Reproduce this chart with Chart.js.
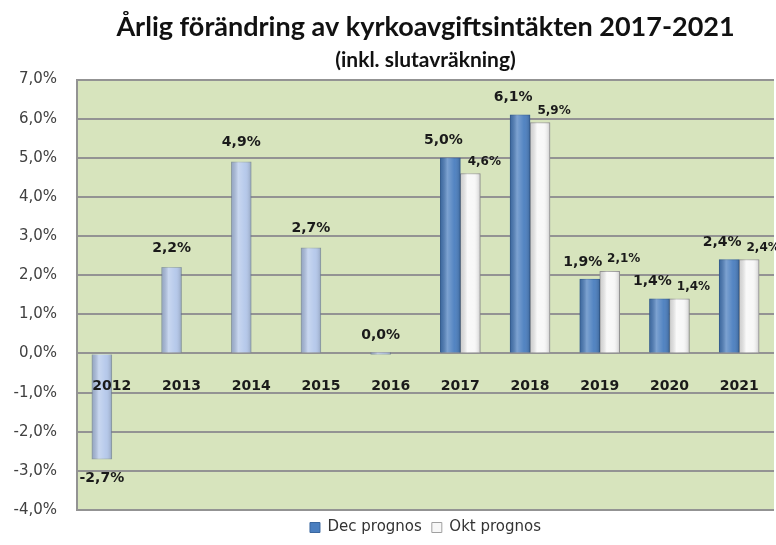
<!DOCTYPE html>
<html>
<head>
<meta charset="utf-8">
<script src="https://cdn.jsdelivr.net/npm/chart.js@4.4.1/dist/chart.umd.min.js"></script>
<style>
  html, body { margin: 0; padding: 0; background: #fff; }
  #wrap { width: 776px; height: 545px; }
</style>
</head>
<body>
<div id="wrap"><canvas id="kyrko" width="776" height="545"></canvas></div>
<script>
// data
var years = ['2012', '2013', '2014', '2015', '2016', '2017', '2018', '2019', '2020', '2021'];
var utfall = [-2.7, 2.2, 4.9, 2.7, 0.0, null, null, null, null, null];
var decPrognos = [null, null, null, null, null, 5.0, 6.1, 1.9, 1.4, 2.4];
var oktPrognos = [null, null, null, null, null, 4.6, 5.9, 2.1, 1.4, 2.4];
var yMin = -4;
var yMax = 7;

function pct(v) {
    return v.toFixed(1).replace('.', ',') + '%';
}

// green plot area
var plotBg = {
    id: 'plotBg',
    beforeDraw: function (chart) {
        var a = chart.chartArea;
        var ctx = chart.ctx;
        ctx.save();
        ctx.fillStyle = '#d7e4bd';
        ctx.fillRect(a.left, a.top, a.right - a.left, a.bottom - a.top);
        ctx.restore();
    }
};

// rounded look on the bars
var barShade = {
    id: 'barShade',
    afterDatasetsDraw: function (chart) {
        var ctx = chart.ctx;
        chart.data.datasets.forEach(function (ds, i) {
            var meta = chart.getDatasetMeta(i);
            meta.data.forEach(function (bar, j) {
                if (ds.data[j] == null) return;
                var p = bar.getProps(['x', 'y', 'base', 'width'], true);
                var l = p.x - p.width / 2;
                var top = Math.min(p.y, p.base);
                var h = Math.abs(p.base - p.y);
                var g = ctx.createLinearGradient(l, 0, l + p.width, 0);
                g.addColorStop(0, 'rgba(0,0,0,0.16)');
                g.addColorStop(0.35, 'rgba(255,255,255,0.28)');
                g.addColorStop(0.7, 'rgba(255,255,255,0.05)');
                g.addColorStop(1, 'rgba(0,0,0,0.18)');
                ctx.save();
                ctx.fillStyle = g;
                ctx.fillRect(l, top, p.width, h);
                ctx.restore();
            });
        });
    }
};

var valueLabels = {
    id: 'valueLabels',
    afterDatasetsDraw: function (chart) {
        var ctx = chart.ctx;
        chart.data.datasets.forEach(function (ds, i) {
            var meta = chart.getDatasetMeta(i);
            meta.data.forEach(function (bar, j) {
                var v = ds.data[j];
                if (v == null) return;
                ctx.save();
                ctx.font = 'bold ' + ds.labelSize + 'px "DejaVu Sans"';
                ctx.fillStyle = '#1a1a1a';
                ctx.textAlign = 'center';
                ctx.textBaseline = 'middle';
                var y = v < 0 ? bar.y + ds.labelGap : bar.y - ds.labelGap;
                ctx.fillText(pct(v), bar.x + ds.labelDx, y);
                ctx.restore();
            });
        });
    }
};

var ctx = document.getElementById('kyrko').getContext('2d');
var myBarChart = new Chart(ctx, {
    type: 'bar',
    data: {
        labels: years,
        datasets: [{
            label: 'Utfall',
            data: utfall,
            stack: 'a',
            backgroundColor: '#b3c7ea',
            borderColor: 'rgba(120,140,170,0.6)',
            borderWidth: 1,
            minBarLength: 2,
            labelSize: 14, labelDx: 0, labelGap: 19
        }, {
            label: 'Dec prognos',
            data: decPrognos,
            stack: 'a',
            backgroundColor: '#4a7ebf',
            borderColor: '#3a679f',
            borderWidth: 1,
            labelSize: 14, labelDx: -7, labelGap: 17
        }, {
            label: 'Okt prognos',
            data: oktPrognos,
            stack: 'b',
            backgroundColor: '#f7f7f7',
            borderColor: '#a0a0a0',
            borderWidth: 1,
            labelSize: 12, labelDx: 14, labelGap: 12
        }]
    },
    options: {
        responsive: false,
        animation: false,
        layout: { padding: { left: 0, right: 2, top: 0, bottom: 0 } },
        datasets: { bar: { barThickness: 20 } },
        scales: {
            x: {
                position: { y: 0 },
                grid: { display: false },
                border: { display: false },
                ticks: {
                    z: 1,
                    color: '#1a1a1a',
                    padding: 16,
                    font: { family: 'DejaVu Sans', size: 14, weight: 'bold' }
                }
            },
            y: {
                min: yMin,
                max: yMax,
                afterFit: function (scale) { scale.width = 77; },
                grid: { color: '#939393', lineWidth: 2, drawTicks: false },
                border: { display: true, color: '#939393', width: 2 },
                ticks: {
                    stepSize: 1,
                    padding: 20,
                    color: '#404040',
                    font: { family: 'DejaVu Sans', size: 15 },
                    callback: function (v) { return pct(v); }
                }
            }
        },
        plugins: {
            title: {
                display: true,
                fullSize: false,
                text: 'Årlig förändring av kyrkoavgiftsintäkten 2017-2021',
                color: '#111',
                font: { family: 'Lato', size: 27, weight: 'bold' },
                padding: { top: 11, bottom: 4 }
            },
            subtitle: {
                display: true,
                fullSize: false,
                text: '(inkl. slutavräkning)',
                color: '#111',
                font: { family: 'Lato', size: 21, weight: 'bold' },
                padding: { top: 0, bottom: 7 }
            },
            legend: {
                position: 'bottom',
                fullSize: false,
                labels: {
                    boxWidth: 10,
                    boxHeight: 10,
                    color: '#333',
                    padding: 10,
                    font: { family: 'DejaVu Sans', size: 15 },
                    filter: function (item) { return item.text !== 'Utfall'; }
                }
            },
            tooltip: { enabled: false }
        }
    },
    plugins: [plotBg, barShade, valueLabels]
});
</script>
</body>
</html>
